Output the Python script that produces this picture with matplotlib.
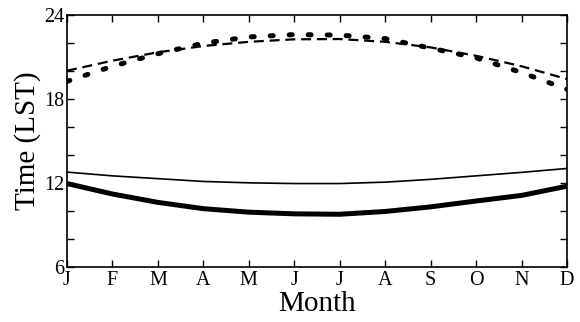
import numpy as np
import matplotlib.pyplot as plt

plt.rcParams['font.family'] = ['Liberation Serif', 'DejaVu Serif']

months = ["J", "F", "M", "A", "M", "J", "J", "A", "S", "O", "N", "D"]

# evening times (dashed = model, dotted = observed)
evening_model = [20.03, 20.75, 21.35, 21.8, 22.1, 22.28, 22.3, 22.1, 21.7, 21.1, 20.35, 19.43]
evening_obs = [19.27, 20.35, 21.25, 22.0, 22.45, 22.62, 22.58, 22.33, 21.65, 20.95, 19.9, 18.7]

# midday times (thin and thick solid)
noon_thin = [12.77, 12.5, 12.3, 12.1, 12.0, 11.95, 11.95, 12.05, 12.25, 12.5, 12.75, 13.03]
noon_thick = [11.95, 11.2, 10.6, 10.15, 9.9, 9.78, 9.75, 9.95, 10.28, 10.7, 11.1, 11.76]

x = np.arange(len(months))

fig, ax = plt.subplots(figsize=(5.8, 3.22), dpi=100)
fig.subplots_adjust(left=0.1155, right=0.9776, bottom=0.172, top=0.9525)

ax.plot(x, evening_model, color="black", linewidth=1.6, linestyle=(0, (4.5, 2.6)))
ax.plot(x, evening_obs, color="black", linewidth=3.6, linestyle=(0, (0.6, 3.2)),
        dash_capstyle="round")
ax.plot(x, noon_thin, color="black", linewidth=1.2)
ax.plot(x, noon_thick, color="black", linewidth=3.6, solid_capstyle="butt")

ax.set_xlim(0, 11)
ax.set_ylim(6, 24)
ax.set_xticks(x)
ax.set_xticklabels(months)
ax.set_yticks([6, 12, 18, 24])
ax.set_yticks(np.arange(6, 25, 2), minor=True)
ax.tick_params(axis="both", which="both", direction="in", top=True, right=True,
               labelsize=14.5, length=5, width=1)
ax.tick_params(axis="x", pad=3)
ax.tick_params(axis="y", pad=2)

ax.set_xlabel("Month", fontsize=21, labelpad=1)
ax.set_ylabel("Time (LST)", fontsize=21, labelpad=2)

for s in ax.spines.values():
    s.set_linewidth(1.2)

fig.savefig("out.png", dpi=100)
